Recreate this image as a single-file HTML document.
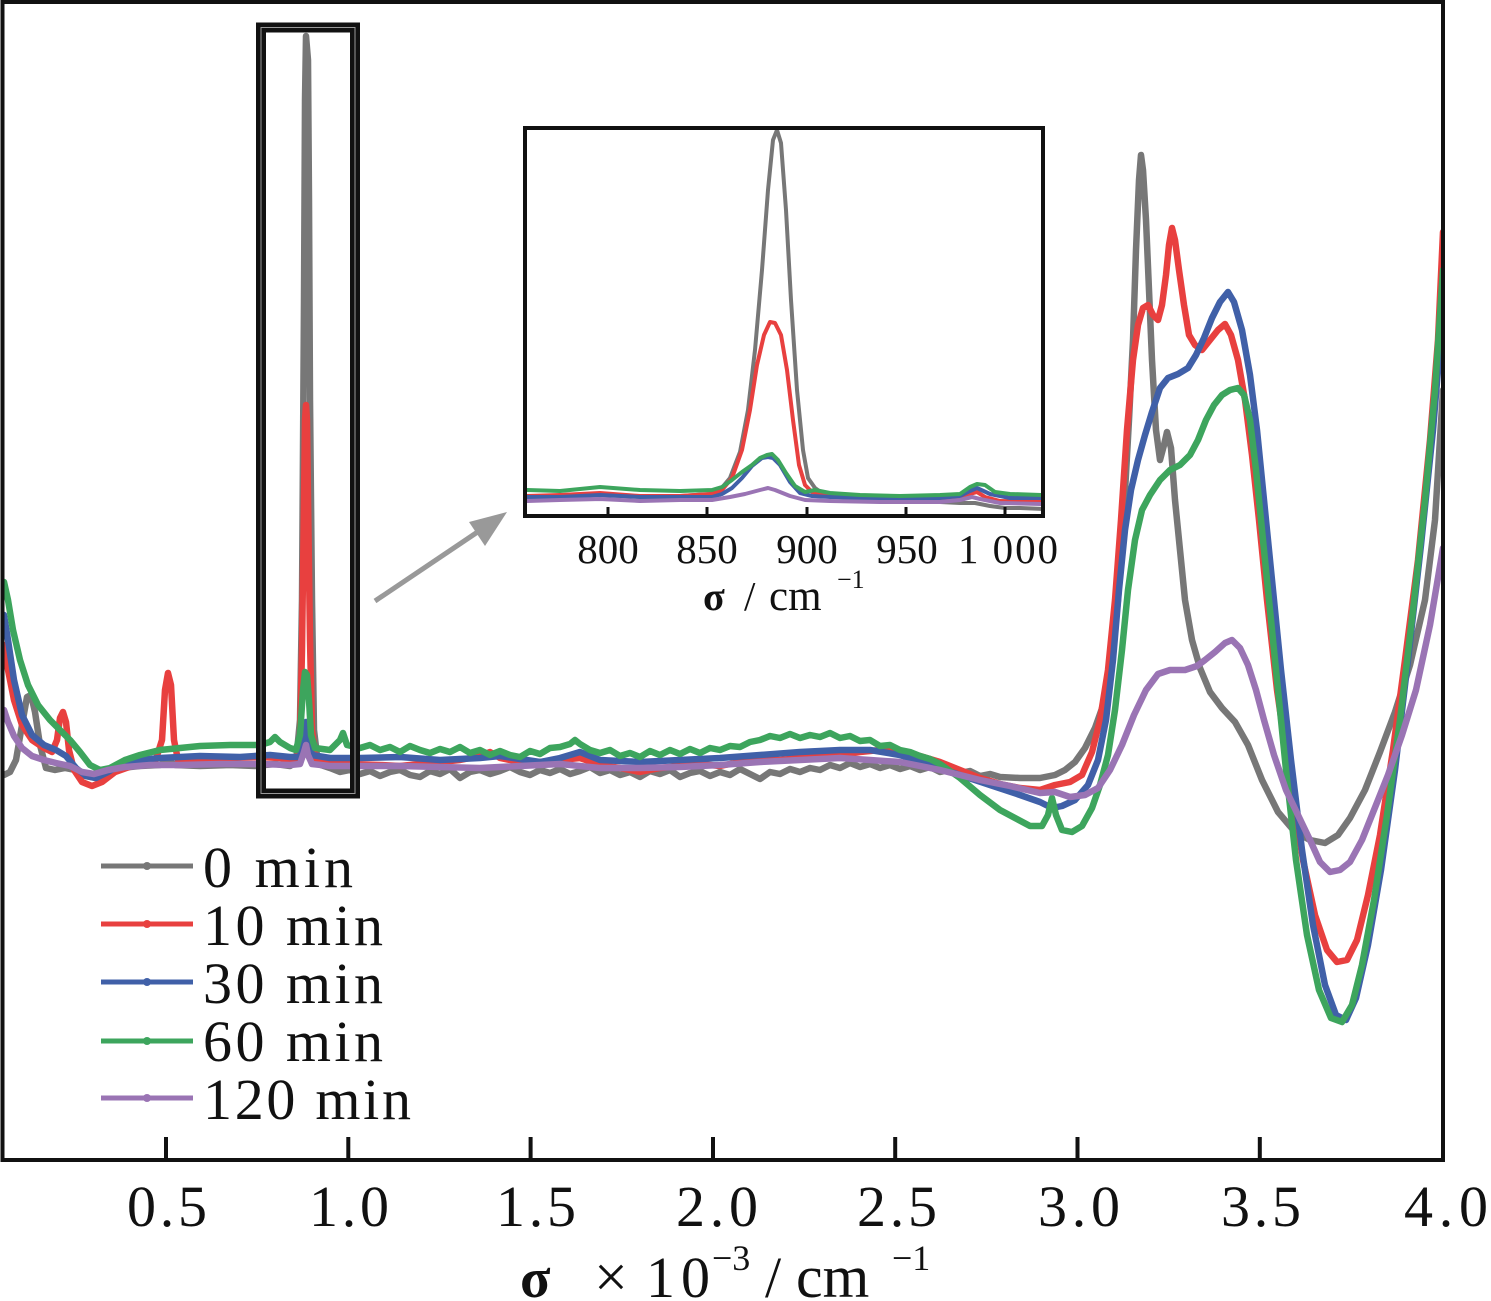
<!DOCTYPE html>
<html>
<head>
<meta charset="utf-8">
<style>
html,body{margin:0;padding:0;background:#fff;}
svg{display:block;}
text{font-family:"Liberation Serif","DejaVu Serif",serif;fill:#111;}
</style>
</head>
<body>
<svg width="1491" height="1301" viewBox="0 0 1491 1301" xmlns="http://www.w3.org/2000/svg">
<defs>
<clipPath id="mainclip"><rect x="4" y="4" width="1437" height="1154"/></clipPath>
<clipPath id="insclip"><rect x="527" y="130" width="514" height="384"/></clipPath>
</defs>
<rect width="1491" height="1301" fill="#fff"/>

<g clip-path="url(#mainclip)" fill="none" stroke-width="6.5" stroke-linejoin="round" stroke-linecap="round">
<polyline stroke="#777777" points="4,775 10,772 16,760 22,725 27,697 31,695 35,712 40,745 46,768 55,770 65,768 75,770 85,776 95,778 105,773 120,768 140,766 160,765 168,760 175,765 200,766 230,765 255,766 275,764 290,766 296,762 300,720 302,600 304,300 305,100 306,36 308,60 309,200 310,400 312,600 314,730 318,764 330,768 340,772 350,770 360,774 370,771 380,776 390,772 400,770 410,775 420,777 430,771 440,774 450,769 460,778 470,772 480,770 490,774 500,771 510,767 520,772 530,775 540,770 550,773 560,769 570,774 580,771 590,767 600,773 610,770 620,775 630,772 640,777 650,771 660,774 670,770 680,777 690,773 700,771 710,776 720,772 730,775 740,769 750,774 760,779 770,772 780,774 790,769 800,772 810,768 820,770 830,765 840,768 850,763 860,767 870,764 880,768 890,765 900,769 910,766 920,770 930,767 940,772 950,770 960,773 970,771 980,776 990,774 1000,777 1020,778 1040,778 1055,775 1065,770 1075,762 1085,748 1095,728 1105,700 1112,660 1118,600 1124,510 1129,420 1133,340 1136,250 1139,180 1141,155 1143,170 1146,220 1149,290 1152,360 1156,430 1160,460 1164,445 1167,432 1171,448 1175,500 1180,550 1185,600 1192,640 1200,668 1210,692 1222,708 1235,722 1248,745 1262,780 1278,812 1295,832 1310,840 1325,843 1338,835 1350,818 1365,790 1380,752 1395,712 1410,665 1425,600 1435,520 1443,390"/>
<polyline stroke="#e8403f" points="4,645 8,670 14,700 22,725 32,740 44,748 52,752 57,740 60,718 63,712 66,722 69,750 74,770 82,782 92,786 102,782 115,772 135,765 155,762 162,740 165,690 168,673 171,685 174,740 178,760 200,760 230,758 260,757 280,758 292,760 297,760 300,740 302,650 304,500 305,420 306,405 307,420 308,500 310,640 312,730 316,760 330,762 350,764 380,765 400,766 420,764 440,762 460,760 480,756 490,752 500,758 520,762 540,762 560,760 580,758 600,765 620,768 640,772 660,768 680,766 700,764 720,766 740,762 760,758 780,760 800,758 820,757 840,755 860,752 880,750 900,752 920,756 940,762 960,770 980,778 1000,784 1020,788 1040,790 1055,785 1070,782 1082,775 1092,752 1100,720 1108,670 1115,600 1121,520 1127,430 1133,360 1138,325 1143,308 1148,305 1153,315 1158,320 1162,305 1166,275 1169,245 1172,228 1175,240 1179,270 1184,305 1189,335 1195,345 1202,350 1210,340 1218,330 1225,324 1231,335 1238,360 1245,400 1252,455 1259,520 1267,600 1277,690 1290,780 1303,860 1315,915 1327,950 1337,962 1347,960 1357,940 1368,895 1380,835 1393,750 1405,660 1418,560 1430,440 1438,340 1443,232"/>
<polyline stroke="#4060a8" points="4,615 8,640 14,680 22,715 32,735 44,745 56,750 66,756 76,768 86,776 96,778 108,772 120,765 140,760 160,758 200,756 240,757 270,755 290,757 300,757 304,735 306,722 308,738 312,755 330,758 360,758 400,757 440,760 480,758 500,756 540,762 560,758 580,752 600,760 640,762 680,760 720,758 760,755 800,752 840,750 870,750 900,755 930,765 960,775 990,785 1020,795 1040,802 1052,808 1062,806 1075,800 1088,785 1098,760 1106,720 1113,660 1119,590 1125,530 1131,490 1138,460 1145,435 1152,412 1160,388 1168,378 1178,374 1188,368 1196,355 1204,338 1212,318 1220,302 1228,292 1234,302 1242,330 1250,375 1257,430 1264,500 1272,580 1281,670 1291,760 1302,850 1313,925 1325,985 1336,1015 1346,1020 1356,998 1368,945 1381,870 1395,770 1408,660 1421,545 1433,430 1443,310"/>
<polyline stroke="#3da55d" points="4,582 8,600 13,630 20,660 28,685 38,705 50,720 60,730 70,740 80,752 90,765 100,770 110,768 125,760 140,755 160,750 180,748 200,746 230,745 260,745 270,742 275,737 280,742 290,748 296,750 300,735 303,690 305,672 307,675 309,700 311,735 315,748 330,750 340,740 343,733 347,745 360,748 370,745 380,750 390,747 400,752 410,746 420,750 430,753 440,749 450,752 460,747 470,753 480,750 490,755 500,751 510,755 520,757 530,751 540,754 550,748 560,747 570,744 575,740 580,744 590,750 600,753 610,750 620,756 630,753 640,757 650,751 660,755 670,750 680,754 690,749 700,753 710,748 720,750 730,746 740,747 750,742 760,740 770,736 780,738 790,734 800,738 810,735 820,737 830,733 840,738 850,736 860,741 870,740 880,746 890,745 900,750 910,752 920,756 930,759 940,764 960,778 980,795 1000,810 1015,818 1030,826 1042,826 1048,815 1052,798 1056,815 1062,830 1072,832 1082,826 1092,808 1100,785 1108,755 1115,710 1122,650 1128,590 1135,540 1142,510 1150,495 1160,480 1170,470 1180,465 1190,455 1198,440 1206,420 1214,405 1222,395 1230,390 1238,388 1244,395 1250,420 1256,470 1262,530 1269,600 1277,680 1286,770 1296,860 1307,935 1319,990 1331,1018 1342,1022 1352,1005 1362,965 1374,900 1387,815 1400,720 1413,610 1425,500 1435,390 1443,270"/>
<polyline stroke="#9a74b4" points="4,710 8,722 14,736 22,748 32,756 44,760 56,763 70,766 82,772 94,774 108,770 125,767 150,765 180,765 220,764 260,764 290,765 300,764 304,752 306,745 308,755 312,764 330,766 360,766 400,766 440,767 480,768 520,766 560,764 600,768 640,768 680,767 720,765 760,762 800,760 840,758 870,760 900,762 940,770 980,780 1010,786 1040,793 1055,792 1070,797 1085,795 1098,788 1110,770 1122,745 1134,715 1146,690 1158,674 1170,670 1185,670 1197,666 1205,660 1215,652 1225,643 1232,640 1240,648 1248,665 1256,690 1264,720 1274,755 1286,790 1298,815 1310,840 1320,862 1330,872 1340,870 1350,862 1362,840 1374,810 1388,775 1402,735 1416,690 1430,625 1443,548"/>
</g>

<!-- zoom box -->
<rect x="261" y="27.5" width="94" height="766" fill="none" stroke="#111" stroke-width="10"/>
<rect x="261" y="27.5" width="94" height="766" fill="none" stroke="#999" stroke-width="1"/>

<!-- main frame -->
<rect x="2.5" y="2" width="1440.5" height="1158" fill="none" stroke="#111" stroke-width="4"/>
<g stroke="#111" stroke-width="4">
<line x1="166" y1="1137" x2="166" y2="1160"/>
<line x1="348.3" y1="1137" x2="348.3" y2="1160"/>
<line x1="530.6" y1="1137" x2="530.6" y2="1160"/>
<line x1="713" y1="1137" x2="713" y2="1160"/>
<line x1="895.2" y1="1137" x2="895.2" y2="1160"/>
<line x1="1077.5" y1="1137" x2="1077.5" y2="1160"/>
<line x1="1259.8" y1="1137" x2="1259.8" y2="1160"/>
</g>
<g font-size="58" text-anchor="middle">
<text x="167" y="1226" textLength="80" lengthAdjust="spacing">0.5</text>
<text x="349" y="1226" textLength="80" lengthAdjust="spacing">1.0</text>
<text x="536" y="1226" textLength="80" lengthAdjust="spacing">1.5</text>
<text x="717" y="1226" textLength="82" lengthAdjust="spacing">2.0</text>
<text x="897" y="1226" textLength="80" lengthAdjust="spacing">2.5</text>
<text x="1079" y="1226" textLength="82" lengthAdjust="spacing">3.0</text>
<text x="1261" y="1226" textLength="80" lengthAdjust="spacing">3.5</text>
<text x="1446" y="1226" textLength="84" lengthAdjust="spacing">4.0</text>
</g>
<!-- axis title -->
<text x="520" y="1297" font-size="56" font-weight="bold">σ</text>
<text x="594" y="1297" font-size="60">×</text>
<text x="646" y="1297" font-size="58" textLength="64" lengthAdjust="spacing">10</text>
<text x="712" y="1270" font-size="36">−3</text>
<text x="765" y="1297" font-size="58">/</text>
<text x="796" y="1297" font-size="60">cm</text>
<text x="892" y="1270" font-size="36">−1</text>

<!-- legend -->
<g stroke-width="5">
<line x1="101" y1="866" x2="193" y2="866" stroke="#777777"/>
<line x1="101" y1="924" x2="193" y2="924" stroke="#e8403f"/>
<line x1="101" y1="982" x2="193" y2="982" stroke="#4060a8"/>
<line x1="101" y1="1041" x2="193" y2="1041" stroke="#3da55d"/>
<line x1="101" y1="1098" x2="193" y2="1098" stroke="#9a74b4"/>
</g>
<circle cx="147" cy="866" r="4" fill="#777777"/>
<circle cx="147" cy="924" r="4" fill="#e8403f"/>
<circle cx="147" cy="982" r="4" fill="#4060a8"/>
<circle cx="147" cy="1041" r="4" fill="#3da55d"/>
<circle cx="147" cy="1098" r="4" fill="#9a74b4"/>
<g font-size="58">
<text x="203" y="887" textLength="150" lengthAdjust="spacing">0 min</text>
<text x="203" y="945" textLength="180" lengthAdjust="spacing">10 min</text>
<text x="203" y="1003" textLength="180" lengthAdjust="spacing">30 min</text>
<text x="203" y="1061" textLength="180" lengthAdjust="spacing">60 min</text>
<text x="203" y="1119" textLength="208" lengthAdjust="spacing">120 min</text>
</g>

<!-- arrow -->
<line x1="375" y1="601" x2="482" y2="529" stroke="#999" stroke-width="5"/>
<polygon points="507,512 469,522 485,546" fill="#999"/>

<!-- inset -->
<rect x="525" y="128" width="518" height="388" fill="#fff"/>
<g clip-path="url(#insclip)" fill="none" stroke-width="4" stroke-linejoin="round">
<polyline stroke="#777777" points="525,497 560,496 600,495 640,497 680,496 710,494 720,490 730,478 740,452 748,410 755,350 762,270 768,190 773,140 777,130 781,143 786,210 791,300 797,390 803,450 808,478 815,488 822,493 830,495 860,497 900,500 940,502 960,503 975,503 990,506 1005,508 1020,508 1043,509"/>
<polyline stroke="#e8403f" points="525,496 560,495 600,493 640,496 680,496 712,494 722,490 732,478 742,450 750,410 757,365 764,335 770,322 775,323 781,335 787,370 793,420 799,465 805,485 812,492 830,496 860,498 900,500 940,500 960,499 970,494 977,492 985,497 1000,501 1043,502"/>
<polyline stroke="#4060a8" points="525,497 560,497 600,495 640,497 680,497 712,497 722,494 732,488 742,478 752,466 762,458 768,457 773,458 780,465 790,482 800,493 812,496 830,497 880,499 940,498 960,496 970,491 977,488 990,494 1010,498 1043,498"/>
<polyline stroke="#3da55d" points="525,490 560,491 600,487 640,490 680,491 712,490 722,487 732,480 742,472 752,465 760,458 767,455 772,454 778,460 786,473 795,486 805,492 815,490 830,493 860,495 900,496 940,495 960,494 970,487 977,484 985,485 995,492 1010,494 1043,495"/>
<polyline stroke="#9a74b4" points="525,501 560,500 600,499 640,501 680,500 712,500 730,497 745,494 760,490 768,488 775,490 790,496 805,500 830,501 880,502 940,502 960,500 972,497 980,499 1000,503 1043,504"/>
</g>
<rect x="525" y="128" width="518" height="388" fill="none" stroke="#111" stroke-width="4"/>
<g stroke="#111" stroke-width="3">
<line x1="608" y1="507" x2="608" y2="516"/>
<line x1="707" y1="507" x2="707" y2="516"/>
<line x1="807" y1="507" x2="807" y2="516"/>
<line x1="906" y1="507" x2="906" y2="516"/>
<line x1="1005" y1="507" x2="1005" y2="516"/>
</g>
<g font-size="41" text-anchor="middle">
<text x="608" y="563">800</text>
<text x="707" y="563">850</text>
<text x="807" y="563">900</text>
<text x="907" y="563">950</text>
<text x="1008" y="563" textLength="100" lengthAdjust="spacing">1 000</text>
</g>
<text x="703" y="610" font-size="40" font-weight="bold">σ</text>
<text x="744" y="610" font-size="41">/</text>
<text x="769" y="610" font-size="43">cm</text>
<text x="837" y="588" font-size="26">−1</text>
</svg>
</body>
</html>
